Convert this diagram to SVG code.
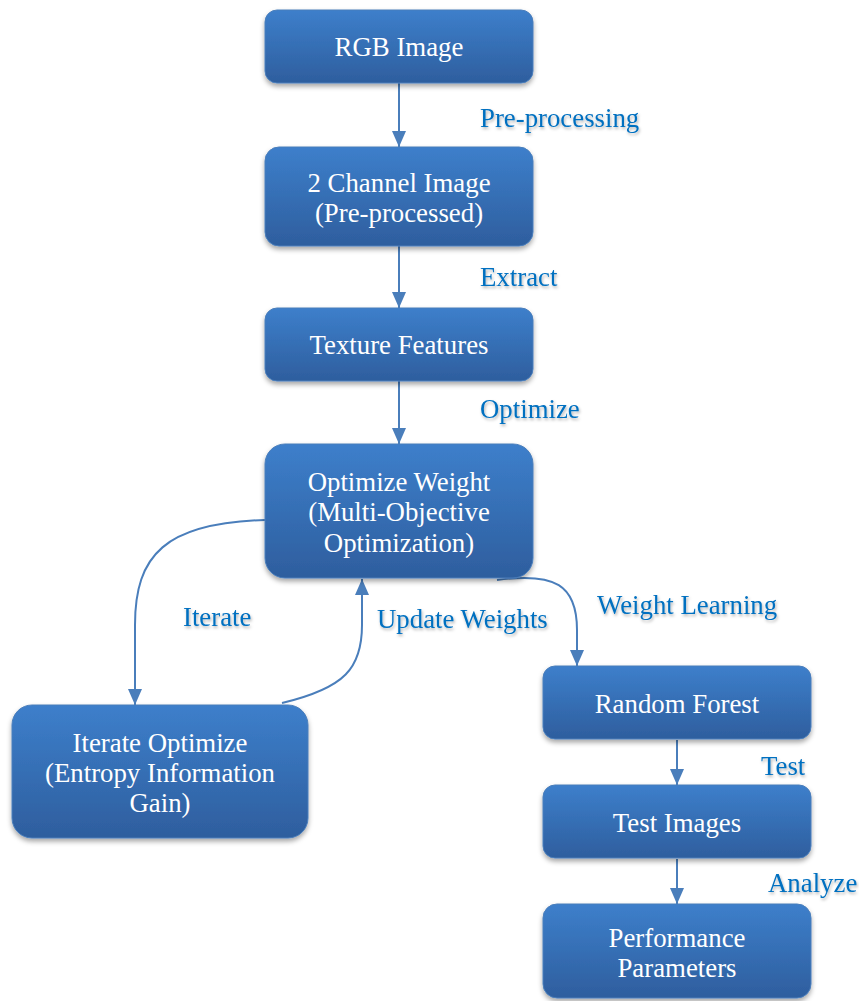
<svg xmlns="http://www.w3.org/2000/svg" width="859" height="1001" viewBox="0 0 859 1001">
<defs>
<linearGradient id="g" x1="0" y1="0" x2="0" y2="1">
<stop offset="0" stop-color="#3D7FCB"/>
<stop offset="1" stop-color="#2E5E9E"/>
</linearGradient>
<filter id="sh" x="-10%" y="-10%" width="120%" height="130%">
<feDropShadow dx="0" dy="3" stdDeviation="2.5" flood-color="#000" flood-opacity="0.35"/>
</filter>
<filter id="tsh" x="-10%" y="-20%" width="120%" height="150%">
<feDropShadow dx="1" dy="2" stdDeviation="1.5" flood-color="#000" flood-opacity="0.3"/>
</filter>
<marker id="ah" viewBox="0 0 16 14" refX="16" refY="7" markerWidth="16" markerHeight="14" markerUnits="userSpaceOnUse" orient="auto">
<path d="M0,0 L16,7 L0,14 Z" fill="#4A7EBB"/>
</marker>
<style>
.box{fill:url(#g);stroke:#4A7EBB;stroke-width:1;filter:url(#sh)}
.nt{font-family:'Liberation Serif','Times New Roman','DejaVu Serif',serif;font-size:26.8px;fill:#fff;text-anchor:middle}
.lb{font-family:'Liberation Serif','Times New Roman','DejaVu Serif',serif;font-size:26.8px;fill:#0070C0;filter:url(#tsh)}
.cn{fill:none;stroke:#4A7EBB;stroke-width:2;marker-end:url(#ah)}
</style>
</defs>
<rect width="859" height="1001" fill="#fff"/>
<g id="connectors">
<path class="cn" d="M399,83 L399,147"/>
<path class="cn" d="M399,246 L399,308"/>
<path class="cn" d="M399,381 L399,444"/>
<path class="cn" d="M265,520 C165,523 135,555 135,625 L135,705"/>
<path class="cn" d="M282,703 C345,688 362,668 362,625 L362,579"/>
<path class="cn" d="M497,580 C555,572 577,585 577,630 L577,666"/>
<path class="cn" d="M677,740 L677,785"/>
<path class="cn" d="M677,859 L677,904"/>
</g>
<g id="labels">
<text class="lb" x="480" y="127">Pre-processing</text>
<text class="lb" x="480" y="286">Extract</text>
<text class="lb" x="480" y="418">Optimize</text>
<text class="lb" x="183" y="626">Iterate</text>
<text class="lb" x="377" y="628">Update Weights</text>
<text class="lb" x="597" y="614">Weight Learning</text>
<text class="lb" x="761" y="775">Test</text>
<text class="lb" x="768" y="892">Analyze</text>
</g>
<g id="n1"><rect class="box" x="265" y="10" width="268" height="73" rx="12"/><text class="nt" x="399" y="56">RGB Image</text></g>
<g id="n2"><rect class="box" x="265" y="147" width="268" height="99" rx="14"/><text class="nt" x="399" y="192">2 Channel Image</text><text class="nt" x="399" y="222">(Pre-processed)</text></g>
<g id="n3"><rect class="box" x="265" y="308" width="268" height="73" rx="12"/><text class="nt" x="399" y="354">Texture Features</text></g>
<g id="n4"><rect class="box" x="265" y="444" width="268" height="134" rx="20"/><text class="nt" x="399" y="491">Optimize Weight</text><text class="nt" x="399" y="521">(Multi-Objective</text><text class="nt" x="399" y="552">Optimization)</text></g>
<g id="n5"><rect class="box" x="12" y="705" width="296" height="133" rx="20"/><text class="nt" x="160" y="752">Iterate Optimize</text><text class="nt" x="160" y="782">(Entropy Information</text><text class="nt" x="160" y="812">Gain)</text></g>
<g id="n6"><rect class="box" x="543" y="666" width="268" height="73" rx="12"/><text class="nt" x="677" y="713">Random Forest</text></g>
<g id="n7"><rect class="box" x="543" y="785" width="268" height="73" rx="12"/><text class="nt" x="677" y="832">Test Images</text></g>
<g id="n8"><rect class="box" x="543" y="904" width="268" height="94" rx="14"/><text class="nt" x="677" y="947">Performance</text><text class="nt" x="677" y="977">Parameters</text></g>
</svg>
